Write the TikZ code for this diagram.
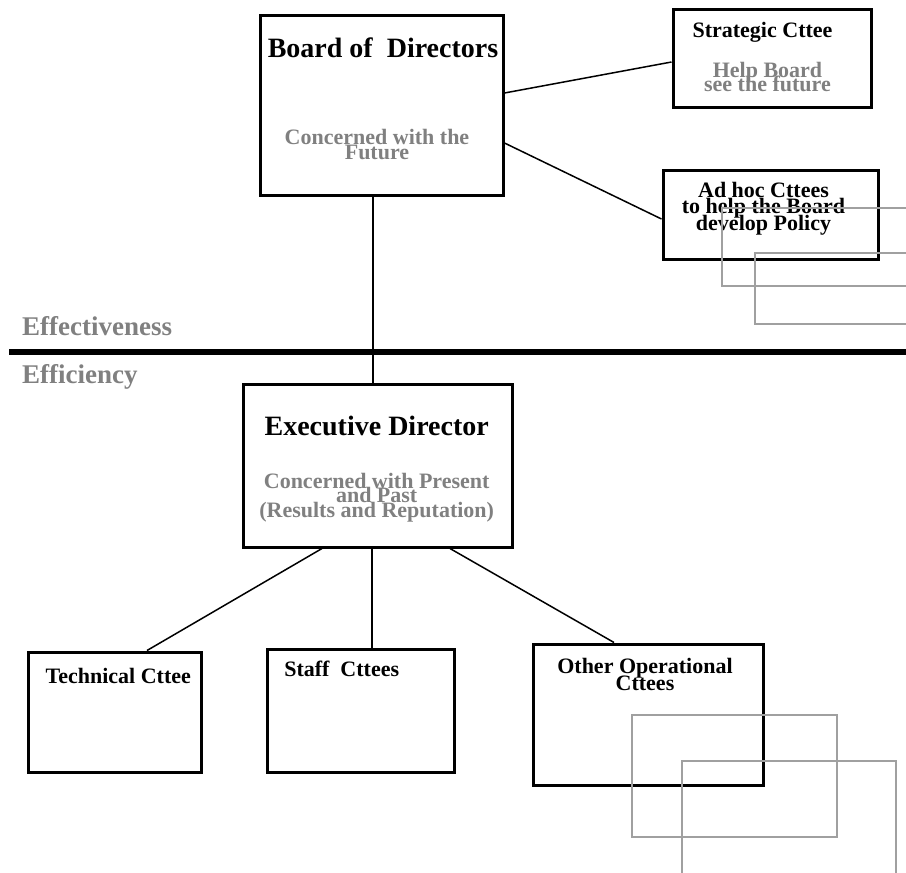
\documentclass[tikz,border=0pt]{standalone}
\usepackage{fontspec}
\setmainfont{Liberation Serif}
\usetikzlibrary{calc}
\setlength{\lineskiplimit}{-50pt}
\definecolor{notegray}{HTML}{808080}
\definecolor{papergray}{HTML}{A0A0A0}
\tikzset{%
  box/.style   = {shape=rectangle, draw, line width=3pt, inner sep=0pt},%
  head/.style  = {font=\bfseries\fontsize{28}{30}\selectfont,%
                  inner sep=0pt, anchor=base},%
  title/.style = {font=\bfseries\fontsize{22}{16.5}\selectfont,%
                  inner sep=0pt, anchor=base, align=center},%
  note/.style  = {title, text=notegray,%
                  font=\bfseries\fontsize{22}{14.5}\selectfont},%
  level/.style = {font=\bfseries\fontsize{27}{30}\selectfont, text=notegray,%
                  inner sep=0pt, anchor=base west},%
  link/.style  = {line width=1.5pt},%
  paper/.style = {draw=papergray, line width=1.5pt}%
}
\begin{document}
\begin{tikzpicture}[x=1pt,y=-1pt]
	\useasboundingbox (0,0) rectangle (906,873);
	\node[box, minimum width=243, minimum height=180] (board) at (381.5,105) {};
	\node[box, minimum width=198, minimum height=98]  (strat) at (772,58) {};
	\node[box, minimum width=215, minimum height=89]  (adhoc) at (770.5,214.5) {};
	\node[box, minimum width=269, minimum height=163] (exec)  at (377.5,465.5) {};
	\node[box, minimum width=173, minimum height=120] (tech)  at (114.5,712) {};
	\node[box, minimum width=187, minimum height=123] (staff) at (360.5,710.5) {};
	\node[box, minimum width=230, minimum height=141] (other) at (648,714.5) {};
	\node[head] (boardtxt) at (383,57) {Board of\ \ Directors};
	\node[note] (boardnote) at (377,159) {Concerned with the\\Future};
	\node[title] (strattxt) at (762.5,37) {Strategic Cttee};
	\node[note, font=\bfseries\fontsize{22}{14}\selectfont]%
		(stratnote) at (767.5,91) {Help Board\\see the future};
	\node[title] (adhoctxt) at (763.5,230) {Ad hoc Cttees\\to help the Board\\develop Policy};
	\node[head] (exectxt) at (376.7,435) {Executive Director};
	\node[note] (execnote) at (376.7,517) {Concerned with Present\\and Past\\(Results and Reputation)};
	\node[title] (techtxt) at (118.3,683) {Technical Cttee};
	\node[title] (stafftxt) at (341.7,676) {Staff\ \ Cttees};
	\node[title] (othertxt) at (645,690) {Other Operational\\Cttees};
	\node[level] (effective) at (22,335) {Effectiveness};
	\node[level] (efficient) at (22,383) {Efficiency};
	\coordinate (rulewest) at (9,352);
	\coordinate (ruleeast) at (906,352);
	\draw[line width=6pt] (rulewest) -- (ruleeast);
	\draw[link] ([xshift=-8.5pt]board.south) -- ([xshift=-4.5pt]exec.north);
	\draw[link] ([yshift=12pt]board.east) -- ([yshift=-4pt]strat.west);
	\draw[link] ([yshift=-38pt]board.east) -- ([yshift=-4.5pt]adhoc.west);
	\draw[link] ([xshift=-55.5pt]exec.south) -- ([xshift=32.5pt]tech.north);
	\draw[link] ([xshift=-5.5pt]exec.south) -- ([xshift=11.5pt]staff.north);
	\draw[link] ([xshift=72.5pt]exec.south) -- ([xshift=-34pt]other.north);
	\draw[paper] (906,208) -| (722,286) -- (906,286);
	\draw[paper] (906,253) -| (755,324) -- (906,324);
	\draw[paper] (632,715) rectangle (837,837);
	\draw[paper] (682,873) |- (896,761) -- (896,873);
\end{tikzpicture}
\end{document}
